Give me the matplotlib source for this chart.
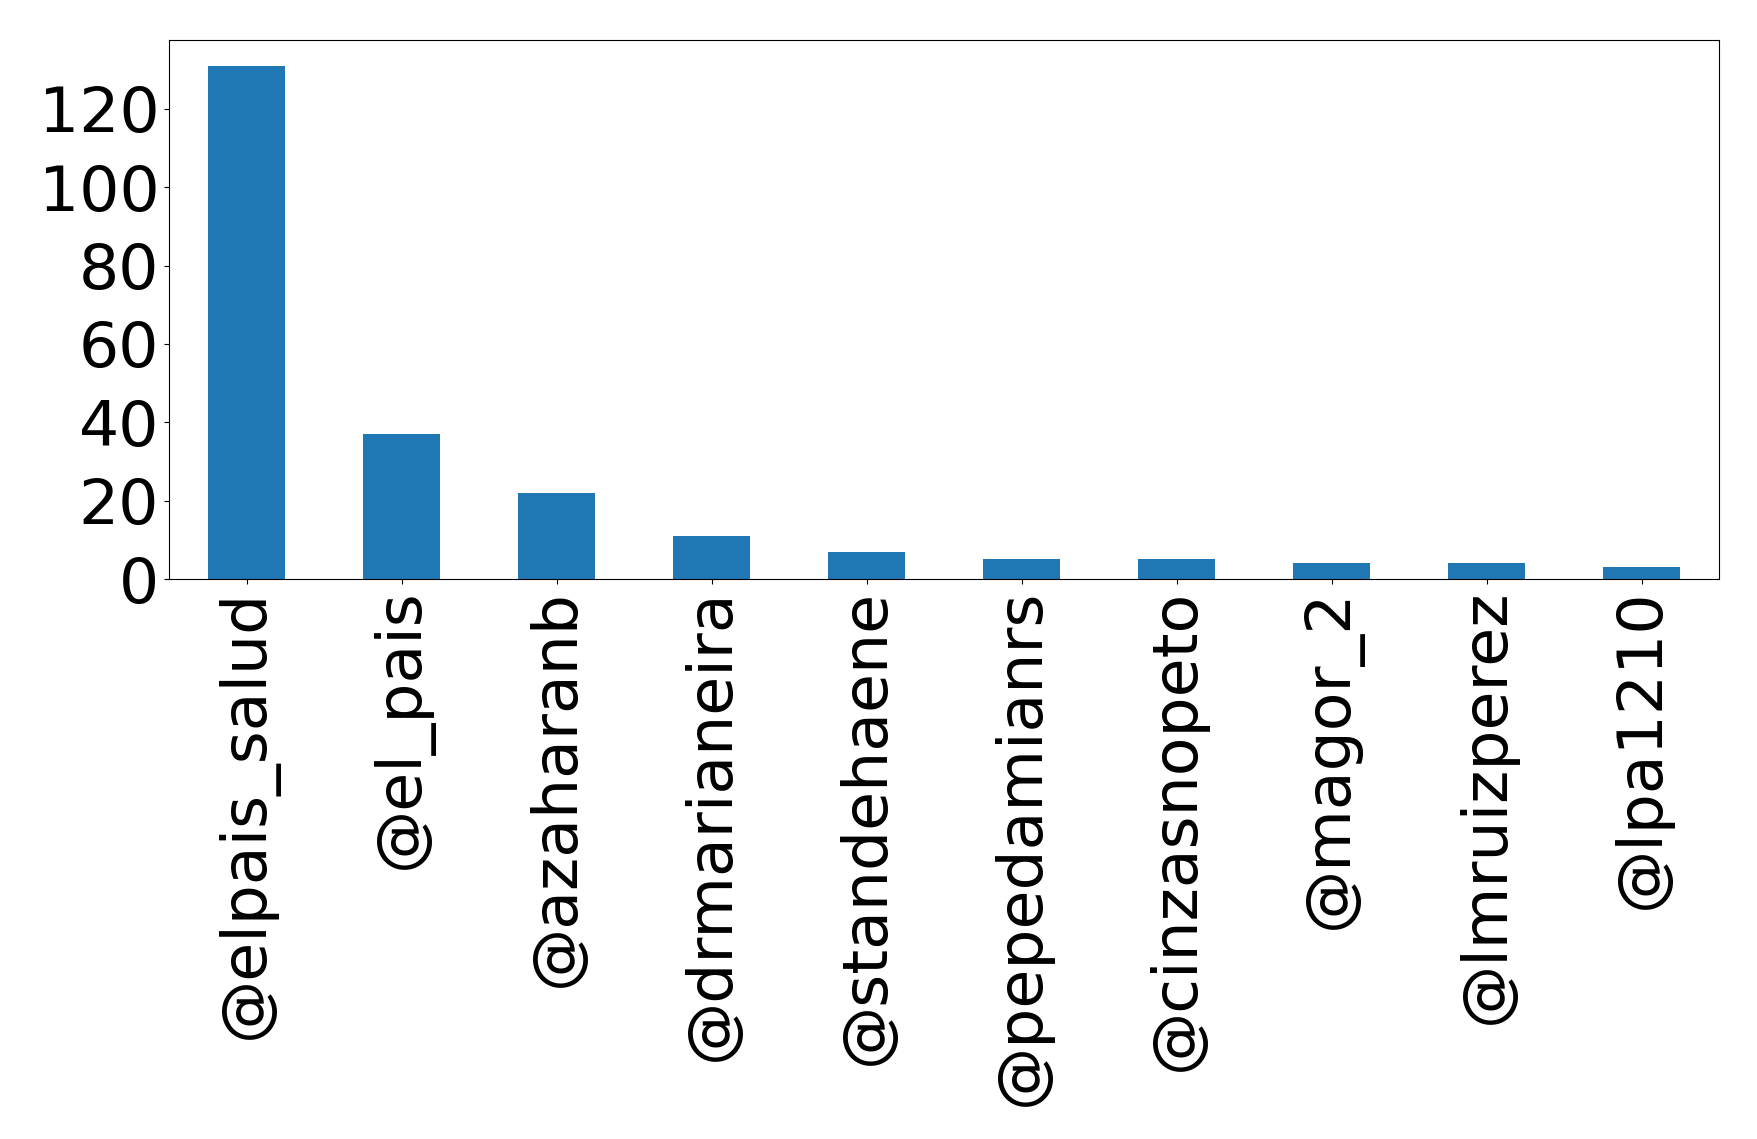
import matplotlib
matplotlib.use("Agg")
import matplotlib.pyplot as plt

users = ["@elpais_salud", "@el_pais", "@azaharanb", "@drmarianeira", "@standehaene",
         "@pepedamianrs", "@cinzasnopeto", "@magor_2", "@lmruizperez", "@lpa1210"]
counts = [131, 37, 22, 11, 7, 5, 5, 4, 4, 3]
yticks = [0, 20, 40, 60, 80, 100, 120]

fig = plt.figure(figsize=(17.58, 11.39), dpi=100)
ax = fig.add_axes([169/1758, 1-579/1139, (1719-169)/1758, (579-40)/1139])
x = range(len(users))
ax.bar(x, counts, width=0.5, color="#1f77b4")
ax.set_xlim(-0.5, len(users)-0.5)
ax.set_xticks(list(x))
ax.set_xticklabels(users, rotation=90, fontsize=45.5)
ax.set_yticks(yticks)
ax.tick_params(axis="y", labelsize=45.5)
fig.savefig("out.png", dpi=100)
